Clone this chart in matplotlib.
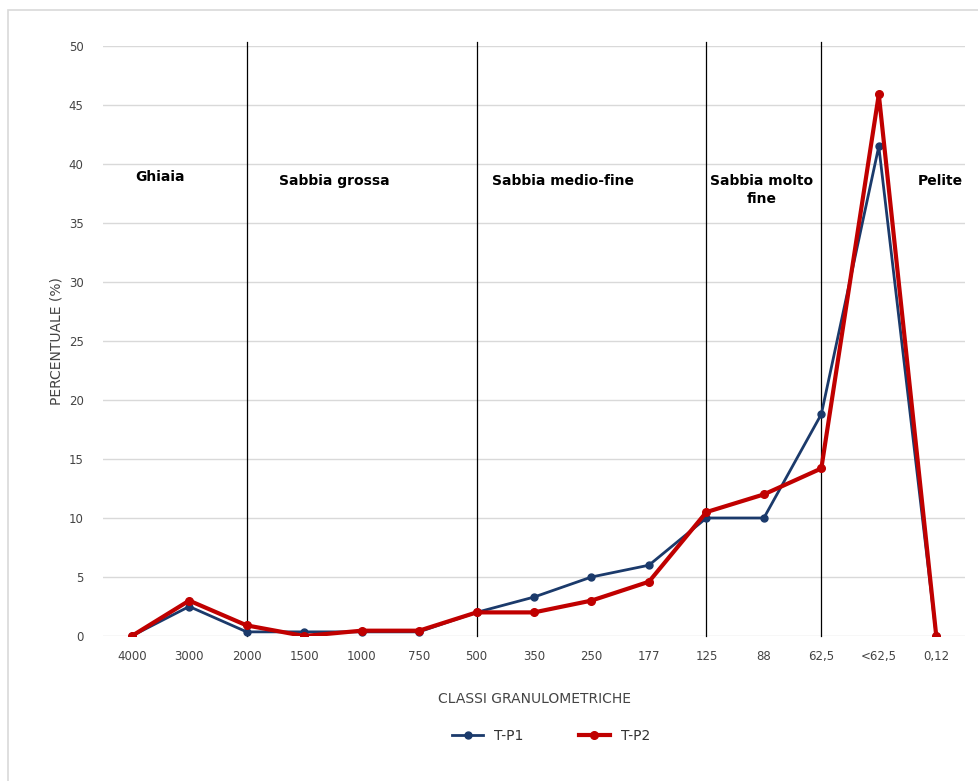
import matplotlib.pyplot as plt
from matplotlib.patches import Rectangle

# classi granulometriche (micron)
classes = ['4000', '3000', '2000', '1500', '1000', '750', '500', '350', '250',
           '177', '125', '88', '62,5', '<62,5', '0,12']
tp1 = [0, 2.5, 0.35, 0.35, 0.35, 0.35, 2.0, 3.3, 5.0, 6.0, 10.0, 10.0, 18.8, 41.5, 0]
tp2 = [0, 3.0, 0.9, 0.0, 0.45, 0.45, 2.0, 2.0, 3.0, 4.6, 10.5, 12.0, 14.2, 45.9, 0]

# limiti delle classi (indice della categoria) e nomi
bounds = [2, 6, 10, 12]
zone_names = ['Ghiaia', 'Sabbia grossa', 'Sabbia medio-fine', 'Sabbia molto\nfine', 'Pelite']
zone_x = [0.5, 3.53, 7.5, 10.96, 14.07]
zone_y = [38.9, 38.6, 38.6, 37.8, 38.6]

blue = '#1b3a6b'
red = '#c00000'

fig = plt.figure(figsize=(9.79, 7.81), dpi=100)
fig.patches.append(Rectangle((8 / 979, -0.1), 1.2, 1 - 10 / 781 + 0.1,
                             transform=fig.transFigure, fill=False,
                             edgecolor='#d9d9d9', lw=1.2))
ax = fig.add_axes([103 / 979, 1 - 636 / 781, 862 / 979, 590 / 781])

x = range(len(classes))
ax.plot(x, tp1, color=blue, lw=2, marker='o', ms=5, label='T-P1', zorder=3)
ax.plot(x, tp2, color=red, lw=3, marker='o', ms=5.5, label='T-P2', zorder=4)

for b in bounds:
    ax.plot([b, b], [0, 50.3], color='black', lw=0.9, clip_on=False, zorder=2)

for name, zx, zy in zip(zone_names, zone_x, zone_y):
    ax.text(zx, zy, name, ha='center', va='center', fontsize=10,
            fontweight='bold', color='black', linespacing=1.35)

ax.set_xlim(-0.5, 14.5)
ax.set_ylim(0, 50)
ax.set_yticks(range(0, 51, 5))
ax.set_xticks(list(x))
ax.set_xticklabels(classes)
ax.grid(axis='y', color='#d9d9d9', lw=1)
ax.set_axisbelow(True)
for s in ax.spines.values():
    s.set_visible(False)
ax.tick_params(length=0, labelsize=8.5, colors='#444444', pad=10)
ax.tick_params(axis='y', pad=14)

ax.set_ylabel('PERCENTUALE (%)', fontsize=10, color='#444444', labelpad=4)
ax.set_xlabel('CLASSI GRANULOMETRICHE', fontsize=10, color='#444444', labelpad=20)
ax.xaxis.set_label_coords(0.5, -0.095)

ax.legend(loc='center', bbox_to_anchor=(0.52, -0.17), ncol=2, frameon=False,
          fontsize=10, handlelength=2.2, columnspacing=4, labelcolor='#333333')

fig.savefig('out.png', dpi=100)
